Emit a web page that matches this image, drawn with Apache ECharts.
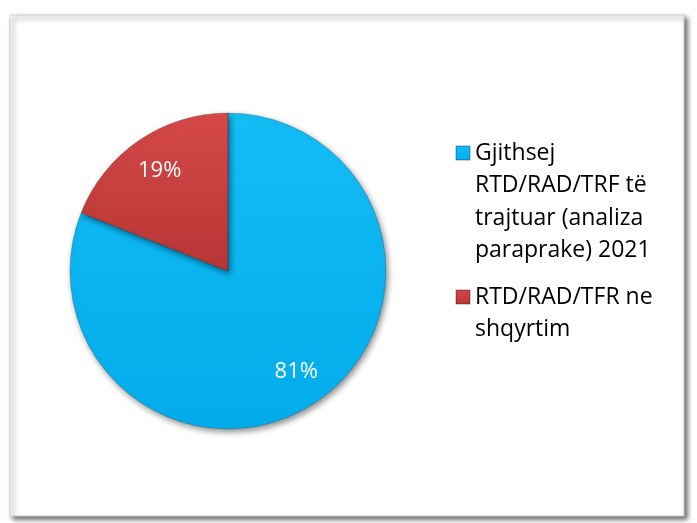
<!DOCTYPE html>
<html>
<head>
<meta charset="utf-8">
<script src="https://cdn.jsdelivr.net/npm/echarts@6/dist/echarts.min.js"></script>
<style>
  html, body { margin: 0; padding: 0; background: #fff; }
  #chart1 { width: 697px; height: 523px; }
</style>
</head>
<body>
<div id="chart1"></div>
<script>
// data
const categories = [
  'Gjithsej RTD/RAD/TRF të trajtuar (analiza paraprake) 2021',
  'RTD/RAD/TFR ne shqyrtim'
];
const values = [81, 19];
const legendLines = [
  ['Gjithsej', 'RTD/RAD/TRF të', 'trajtuar (analiza', 'paraprake) 2021'],
  ['RTD/RAD/TFR ne', 'shqyrtim']
];
const sliceColors = [
  { top: '#14BDF4', bottom: '#02ACEB' },
  { top: '#D54848', bottom: '#B83535' }
];

const FONT = 'Open Sans';
const LINE_H = 32.5;
const ICON = 14;

const chart1 = echarts.init(document.getElementById('chart1'));

const pieData = categories.map((name, i) => ({
  name: name,
  value: values[i],
  itemStyle: {
    color: {
      type: 'linear', x: 0, y: 0, x2: 0, y2: 1,
      colorStops: [
        { offset: 0, color: sliceColors[i].top },
        { offset: 1, color: sliceColors[i].bottom }
      ]
    }
  }
}));

function makeLegend(i, iconTop) {
  const n = legendLines[i].length;
  // legend text is centred on the icon, so blank lines in front
  // put the first real line next to the icon
  const blank = new Array(n - 1).fill('');
  const blockTop = ICON / 2 - (2 * n - 1) * LINE_H / 2;
  return {
    data: [categories[i]],
    orient: 'vertical',
    left: 455,
    top: iconTop + blockTop,
    padding: 0,
    itemWidth: ICON,
    itemHeight: ICON,
    icon: 'rect',
    selectedMode: false,
    formatter: () => blank.concat(legendLines[i]).join('\n'),
    textStyle: {
      fontFamily: FONT,
      fontSize: 23,
      color: '#000',
      lineHeight: LINE_H
    }
  };
}

const option = {
  animation: false,
  graphic: [{
    type: 'rect',
    z: -10,
    shape: { x: 10, y: 15, width: 674, height: 501 },
    style: {
      fill: '#fff',
      stroke: '#cfcfcf',
      lineWidth: 1,
      shadowBlur: 5,
      shadowOffsetX: 3,
      shadowOffsetY: 3,
      shadowColor: 'rgba(0,0,0,0.6)'
    }
  }],
  legend: [makeLegend(0, 146), makeLegend(1, 290)],
  series: [
    {
      type: 'pie',
      center: [228, 271],
      radius: 158,
      startAngle: 90,
      clockwise: true,
      silent: true,
      label: { show: false },
      labelLine: { show: false },
      itemStyle: {
        borderColor: 'rgba(0,0,0,0.18)',
        borderWidth: 1,
        shadowBlur: 6,
        shadowOffsetX: 2,
        shadowOffsetY: 3,
        shadowColor: 'rgba(0,0,0,0.45)'
      },
      data: pieData
    },
    {
      // transparent ring only used to place the % labels at 3/4 radius
      type: 'pie',
      center: [228, 271],
      radius: [79, 158],
      startAngle: 90,
      clockwise: true,
      silent: true,
      percentPrecision: 0,
      itemStyle: { color: 'rgba(0,0,0,0)' },
      label: {
        show: true,
        position: 'inside',
        formatter: '{d}%',
        color: '#fff',
        fontFamily: FONT,
        fontSize: 22
      },
      labelLine: { show: false },
      data: categories.map((name, i) => ({ name: name, value: values[i] }))
    }
  ]
};

chart1.setOption(option);
</script>
</body>
</html>
